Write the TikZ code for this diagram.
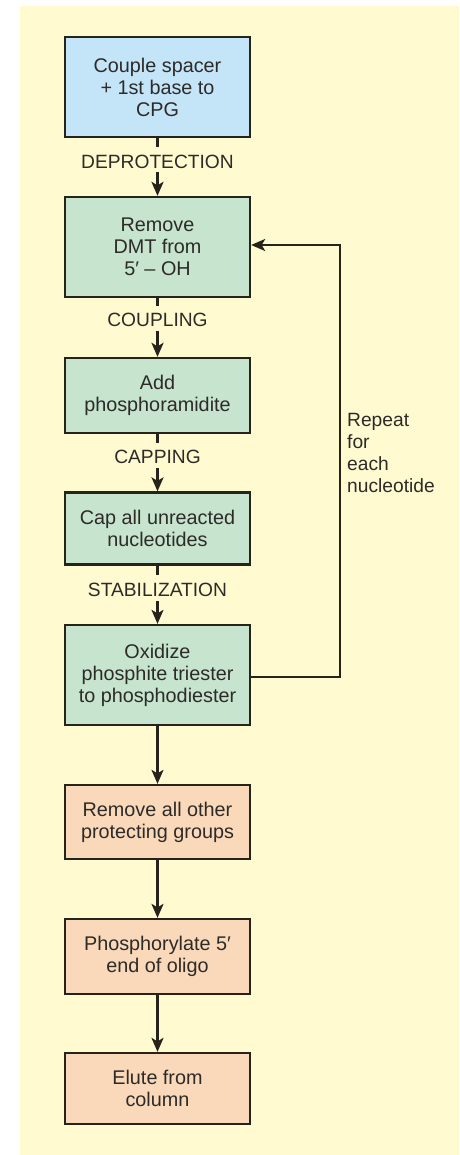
\documentclass[tikz,border=0pt]{standalone}
\usepackage{fontspec}
\setmainfont{Liberation Sans}
\usetikzlibrary{arrows.meta}
\definecolor{bgyellow}{RGB}{255,250,208}
\definecolor{boxblue}{RGB}{196,228,248}
\definecolor{boxgreen}{RGB}{198,228,206}
\definecolor{boxpeach}{RGB}{250,216,186}
\definecolor{edge}{RGB}{38,34,28}
\definecolor{txt}{RGB}{45,43,40}
\tikzset{
  stepbox/.style={draw=edge, line width=2.3pt, minimum width=185pt, inner sep=0pt,
    align=center, text=txt, font=\fontsize{19.8}{22}\selectfont},
  bluebox/.style={stepbox, fill=boxblue},
  greenbox/.style={stepbox, fill=boxgreen},
  peachbox/.style={stepbox, fill=boxpeach},
  steplabel/.style={text=txt, font=\fontsize{19.2}{22}\selectfont, inner sep=0pt},
  conn/.style={draw=edge, line width=2.1pt},
  arr/.style={conn, -{Stealth[length=14pt,width=12pt,inset=3.5pt]}}
}
\begin{document}
\begin{tikzpicture}[x=1pt,y=-1pt]
\useasboundingbox (0,0) rectangle (459,1155);
\fill[white] (0,0) rectangle (459,1155);
\fill[bgyellow] (20,6) rectangle (459,1155);

\node[bluebox, minimum height=100pt] (b1) at (157.5,87) {Couple spacer\\+ 1st base to\\CPG};
\node[greenbox, minimum height=100pt] (b2) at (157.5,247) {Remove\\DMT from\\5\char"2032{} – OH};
\node[greenbox, minimum height=75pt] (b3) at (157.5,395.5) {Add\\phosphoramidite};
\node[greenbox, minimum height=72pt] (b4) at (157.5,528.5) {Cap all unreacted\\nucleotides};
\node[greenbox, minimum height=100pt] (b5) at (157.5,675) {Oxidize\\phosphite triester\\to phosphodiester};
\node[peachbox, minimum height=74pt] (b6) at (157.5,822) {Remove all other\\protecting groups};
\node[peachbox, minimum height=75pt] (b7) at (157.5,956.5) {Phosphorylate 5\char"2032\\end of oligo};
\node[peachbox, minimum height=71pt] (b8) at (157.5,1088.5) {Elute from\\column};

\node[steplabel] (l1) at (157.5,162) {DEPROTECTION};
\node[steplabel] (l2) at (157.5,320) {COUPLING};
\node[steplabel] (l3) at (157.5,457) {CAPPING};
\node[steplabel] (l4) at (157.5,590) {STABILIZATION};

\coordinate (s1) at (157.5,147);
\coordinate (a1) at (157.5,172);
\coordinate (s2) at (157.5,306);
\coordinate (a2) at (157.5,331);
\coordinate (s3) at (157.5,443);
\coordinate (a3) at (157.5,468);
\coordinate (s4) at (157.5,575);
\coordinate (a4) at (157.5,601);

\draw[conn] (b1.south) -- (s1);
\draw[arr] (a1) -- (b2.north);
\draw[conn] (b2.south) -- (s2);
\draw[arr] (a2) -- (b3.north);
\draw[conn] (b3.south) -- (s3);
\draw[arr] (a3) -- (b4.north);
\draw[conn] (b4.south) -- (s4);
\draw[arr] (a4) -- (b5.north);
\draw[arr] (b5.south) -- (b6.north);
\draw[arr] (b6.south) -- (b7.north);
\draw[arr] (b7.south) -- (b8.north);

\coordinate (fb1) at (340,677);
\coordinate (fb2) at (340,245);
\draw[arr] (b5.east |- fb1) -- (fb1) -- (fb2) -- (b2.east |- fb2);

\node[steplabel, anchor=west, align=left] (rep) at (347,453) {Repeat\\for\\each\\nucleotide};
\end{tikzpicture}
\end{document}
